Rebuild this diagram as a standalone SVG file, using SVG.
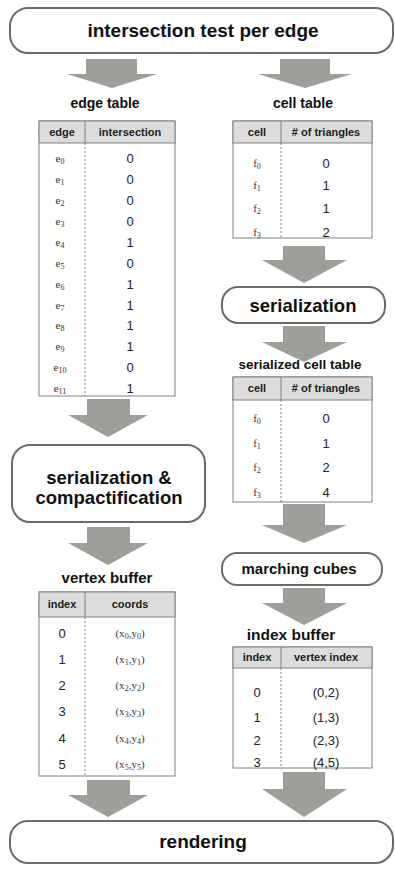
<svg xmlns="http://www.w3.org/2000/svg" width="395" height="869" viewBox="0 0 395 869">
<style>
.box{fill:#fff;stroke:#6a6a6a;stroke-width:2}
.btxt{font-family:"Liberation Sans",Arial,sans-serif;font-weight:bold;fill:#111;text-anchor:middle}
.title{font-family:"Liberation Sans",Arial,sans-serif;font-weight:bold;fill:#111;text-anchor:middle}
.arrow{fill:#9d9f9a}
.tbl{fill:#fff;stroke:#808080;stroke-width:1}
.hdr{fill:#dcdcdc;stroke:#808080;stroke-width:1}
.hl{stroke:#808080;stroke-width:1}
.dash{stroke:#808080;stroke-width:1;stroke-dasharray:2,2}
.htxt{font-family:"Liberation Sans",Arial,sans-serif;font-weight:bold;font-size:11px;fill:#222;text-anchor:middle}
.val{font-family:"Liberation Sans",Arial,sans-serif;font-size:13px;fill:#222;text-anchor:middle}
.ser{font-family:"Liberation Serif","Times New Roman",serif;font-size:11px;fill:#333;text-anchor:middle}
.sub{font-size:8px}
</style>
<g id="connectors">
<path class="arrow" d="M86,59 H137 V74 H157 L112,88 L67,74 H86 Z"/>
<path class="arrow" d="M280,59 H330 V74 H352 L305,88 L258,74 H280 Z"/>
<path class="arrow" d="M87,399 H130 V415 H148 L108,437 L68,415 H87 Z"/>
<path class="arrow" d="M87,527 H130 V543 H148 L108,565 L68,543 H87 Z"/>
<path class="arrow" d="M87,780 H130 V795 H148 L108,817 L68,795 H87 Z"/>
<path class="arrow" d="M283,246 H325 V260 H347 L304,283 L262,260 H283 Z"/>
<path class="arrow" d="M283,326 H325 V342 H347 L304,362 L262,342 H283 Z"/>
<path class="arrow" d="M283,504 H325 V525 H347 L304,543 L262,525 H283 Z"/>
<path class="arrow" d="M283,588 H325 V603 H347 L304,625 L262,603 H283 Z"/>
<path class="arrow" d="M283,772 H325 V789 H347 L304,817 L262,789 H283 Z"/>
</g>
<g id="intersection-test">
<rect class="box" x="10" y="8" width="383" height="45" rx="18"/>
<text class="btxt" x="203" y="37" font-size="19">intersection test per edge</text>
</g>
<g id="edge-table">
<text class="title" x="105" y="108" font-size="14">edge table</text>
<rect class="tbl" x="39" y="121" width="136" height="275"/>
<rect class="hdr" x="39" y="121" width="136" height="22"/>
<line class="hl" x1="85" y1="121" x2="85" y2="143"/>
<line class="dash" x1="85" y1="143" x2="85" y2="396"/>
<text class="htxt" x="62" y="136">edge</text>
<text class="htxt" x="130" y="136">intersection</text>
<g class="ser">
<text x="60" y="162">e<tspan class="sub" dy="2">0</tspan></text>
<text x="60" y="183">e<tspan class="sub" dy="2">1</tspan></text>
<text x="60" y="204">e<tspan class="sub" dy="2">2</tspan></text>
<text x="60" y="225">e<tspan class="sub" dy="2">3</tspan></text>
<text x="60" y="246">e<tspan class="sub" dy="2">4</tspan></text>
<text x="60" y="267">e<tspan class="sub" dy="2">5</tspan></text>
<text x="60" y="288">e<tspan class="sub" dy="2">6</tspan></text>
<text x="60" y="309">e<tspan class="sub" dy="2">7</tspan></text>
<text x="60" y="329">e<tspan class="sub" dy="2">8</tspan></text>
<text x="60" y="350">e<tspan class="sub" dy="2">9</tspan></text>
<text x="60" y="371">e<tspan class="sub" dy="2">10</tspan></text>
<text x="60" y="392">e<tspan class="sub" dy="2">11</tspan></text>
</g>
<g class="val">
<text x="130" y="163">0</text>
<text x="130" y="184">0</text>
<text x="130" y="205">0</text>
<text x="130" y="226">0</text>
<text x="130" y="247">1</text>
<text x="130" y="268">0</text>
<text x="130" y="289">1</text>
<text x="130" y="310">1</text>
<text x="130" y="330">1</text>
<text x="130" y="351">1</text>
<text x="130" y="372">0</text>
<text x="130" y="393">1</text>
</g>
</g>
<g id="cell-table">
<text class="title" x="303" y="108" font-size="14">cell table</text>
<rect class="tbl" x="233" y="121" width="139" height="117"/>
<rect class="hdr" x="233" y="121" width="139" height="22"/>
<line class="hl" x1="281" y1="121" x2="281" y2="143"/>
<line class="dash" x1="281" y1="143" x2="281" y2="238"/>
<text class="htxt" x="257" y="136">cell</text>
<text class="htxt" x="326" y="136"># of triangles</text>
<g class="ser" font-size="12">
<text x="257" y="167">f<tspan class="sub" dy="2">0</tspan></text>
<text x="257" y="189">f<tspan class="sub" dy="2">1</tspan></text>
<text x="257" y="212">f<tspan class="sub" dy="2">2</tspan></text>
<text x="257" y="236">f<tspan class="sub" dy="2">3</tspan></text>
</g>
<g class="val">
<text x="326" y="168">0</text>
<text x="326" y="190">1</text>
<text x="326" y="213">1</text>
<text x="326" y="237">2</text>
</g>
</g>
<g id="serialization">
<rect class="box" x="222" y="287" width="163" height="36" rx="16"/>
<text class="btxt" x="303" y="312" font-size="18.5">serialization</text>
</g>
<g id="serialized-cell-table">
<text class="title" x="300" y="369" font-size="13.5">serialized cell table</text>
<rect class="tbl" x="233" y="377" width="139" height="125"/>
<rect class="hdr" x="233" y="377" width="139" height="23"/>
<line class="hl" x1="281" y1="377" x2="281" y2="400"/>
<line class="dash" x1="281" y1="400" x2="281" y2="502"/>
<text class="htxt" x="257" y="392">cell</text>
<text class="htxt" x="326" y="392"># of triangles</text>
<g class="ser" font-size="12">
<text x="257" y="422">f<tspan class="sub" dy="2">0</tspan></text>
<text x="257" y="447">f<tspan class="sub" dy="2">1</tspan></text>
<text x="257" y="471">f<tspan class="sub" dy="2">2</tspan></text>
<text x="257" y="496">f<tspan class="sub" dy="2">3</tspan></text>
</g>
<g class="val">
<text x="326" y="423">0</text>
<text x="326" y="448">1</text>
<text x="326" y="472">2</text>
<text x="326" y="497">4</text>
</g>
</g>
<g id="serialization-compactification">
<rect class="box" x="12" y="445" width="193" height="77" rx="18"/>
<text class="btxt" x="109" y="484" font-size="18.5">serialization &amp;</text>
<text class="btxt" x="109" y="504" font-size="18.5">compactification</text>
</g>
<g id="marching-cubes">
<rect class="box" x="222" y="553" width="160" height="32" rx="15"/>
<text class="btxt" x="299" y="574" font-size="15">marching cubes</text>
</g>
<g id="vertex-buffer">
<text class="title" x="107" y="583" font-size="15">vertex buffer</text>
<rect class="tbl" x="39" y="592" width="136" height="184"/>
<rect class="hdr" x="39" y="592" width="136" height="25"/>
<line class="hl" x1="85" y1="592" x2="85" y2="617"/>
<line class="dash" x1="85" y1="617" x2="85" y2="776"/>
<text class="htxt" x="62" y="608">index</text>
<text class="htxt" x="130" y="608">coords</text>
<g class="val" font-size="14">
<text x="62" y="638">0</text>
<text x="62" y="664">1</text>
<text x="62" y="690">2</text>
<text x="62" y="716">3</text>
<text x="62" y="743">4</text>
<text x="62" y="769">5</text>
</g>
<g class="ser" font-size="12.5">
<text x="130" y="637">(x<tspan class="sub" dy="2">0</tspan><tspan dy="-2">,y</tspan><tspan class="sub" dy="2">0</tspan><tspan dy="-2">)</tspan></text>
<text x="130" y="663">(x<tspan class="sub" dy="2">1</tspan><tspan dy="-2">,y</tspan><tspan class="sub" dy="2">1</tspan><tspan dy="-2">)</tspan></text>
<text x="130" y="689">(x<tspan class="sub" dy="2">2</tspan><tspan dy="-2">,y</tspan><tspan class="sub" dy="2">2</tspan><tspan dy="-2">)</tspan></text>
<text x="130" y="715">(x<tspan class="sub" dy="2">3</tspan><tspan dy="-2">,y</tspan><tspan class="sub" dy="2">3</tspan><tspan dy="-2">)</tspan></text>
<text x="130" y="742">(x<tspan class="sub" dy="2">4</tspan><tspan dy="-2">,y</tspan><tspan class="sub" dy="2">4</tspan><tspan dy="-2">)</tspan></text>
<text x="130" y="768">(x<tspan class="sub" dy="2">5</tspan><tspan dy="-2">,y</tspan><tspan class="sub" dy="2">5</tspan><tspan dy="-2">)</tspan></text>
</g>
</g>
<g id="index-buffer">
<text class="title" x="291" y="640" font-size="15.5">index buffer</text>
<rect class="tbl" x="233" y="647" width="139" height="121"/>
<rect class="hdr" x="233" y="647" width="139" height="21"/>
<line class="hl" x1="281" y1="647" x2="281" y2="668"/>
<line class="dash" x1="281" y1="668" x2="281" y2="768"/>
<text class="htxt" x="257" y="661">index</text>
<text class="htxt" x="326" y="661">vertex index</text>
<g class="val" font-size="14">
<text x="257" y="697">0</text>
<text x="257" y="722">1</text>
<text x="257" y="745">2</text>
<text x="257" y="767">3</text>
<text x="326" y="697">(0,2)</text>
<text x="326" y="722">(1,3)</text>
<text x="326" y="745">(2,3)</text>
<text x="326" y="767">(4,5)</text>
</g>
</g>
<g id="rendering">
<rect class="box" x="10" y="821" width="383" height="42" rx="18"/>
<text class="btxt" x="203" y="848" font-size="19">rendering</text>
</g>
</svg>
